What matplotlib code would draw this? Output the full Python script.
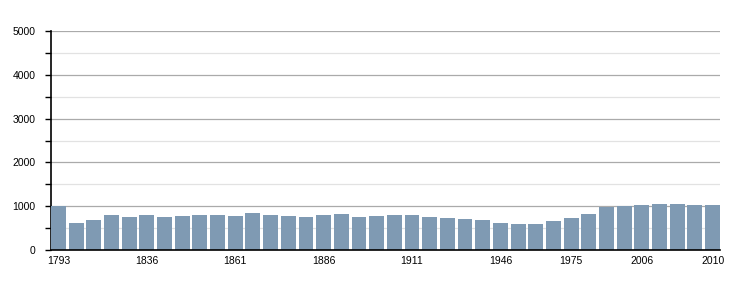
import matplotlib
matplotlib.use("Agg")
import matplotlib.pyplot as plt
from matplotlib.ticker import MultipleLocator

years = [1793, 1800, 1806, 1821, 1831, 1836, 1841, 1846, 1851, 1856,
         1861, 1866, 1872, 1876, 1881, 1886, 1891, 1896, 1901, 1906,
         1911, 1921, 1926, 1931, 1936, 1946, 1954, 1962, 1968, 1975,
         1982, 1990, 1999, 2006, 2007, 2008, 2009, 2010]
population = [1000, 614, 682, 795, 750, 795, 750, 773, 795, 795,
              773, 841, 795, 773, 750, 795, 818, 750, 773, 795,
              795, 750, 727, 705, 682, 614, 591, 591, 659, 727,
              818, 977, 1000, 1023, 1045, 1045, 1023, 1023]
labeled_years = [1793, 1836, 1861, 1886, 1911, 1946, 1975, 2006, 2010]

plt.rcParams['font.family'] = ['Liberation Sans', 'DejaVu Sans']

fig = plt.figure(figsize=(7.5, 3), dpi=100)
ax = fig.add_axes([51/750, 50/300, 669/750, 219/300])

w = 0.84
x = list(range(len(years)))
ax.bar(x, population, width=w, color='#7f9ab3', zorder=3)

ax.set_xlim(-w/2, len(years) - 1 + w/2)
ax.set_ylim(0, 5000)
ax.yaxis.set_major_locator(MultipleLocator(1000))
ax.yaxis.set_minor_locator(MultipleLocator(500))
ax.grid(axis='y', which='major', color='#aaaaaa', linewidth=0.9, zorder=0)
ax.grid(axis='y', which='minor', color='#e2e2e2', linewidth=0.9, zorder=0)

tick_pos = [years.index(y) for y in labeled_years]
ax.set_xticks(tick_pos)
ax.set_xticklabels([str(y) for y in labeled_years])
ax.tick_params(axis='x', length=0, pad=4, labelsize=7.5)
ax.tick_params(axis='y', which='both', length=4, width=1, pad=7, labelsize=7.5, direction='out')

for s in ['top', 'right']:
    ax.spines[s].set_visible(False)
ax.spines['left'].set_linewidth(1.2)
ax.spines['bottom'].set_linewidth(1.2)
ax.spines['bottom'].set_zorder(5)

fig.savefig('out.png', dpi=100)
